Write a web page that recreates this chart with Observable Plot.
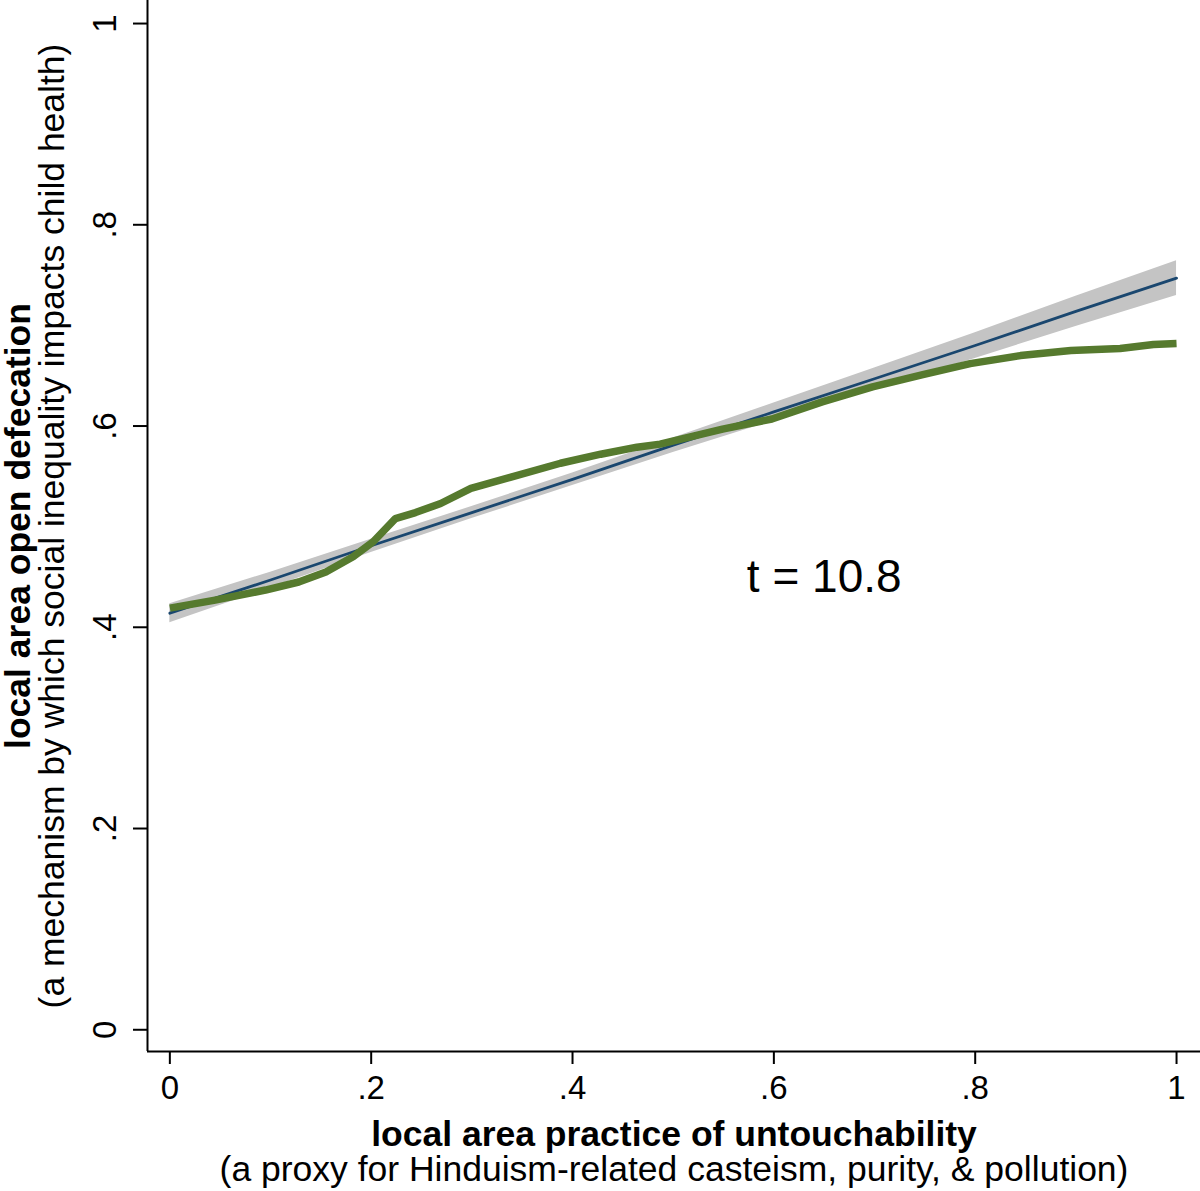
<!DOCTYPE html>
<html>
<head>
<meta charset="utf-8">
<script src="https://cdn.jsdelivr.net/npm/d3@7"></script>
<script src="https://cdn.jsdelivr.net/npm/@observablehq/plot@0.6"></script>
<style>
  html, body { margin: 0; padding: 0; background: #fff; }
  #chart svg { display: block; }
</style>
</head>
<body>
<div id="chart"></div>
<script>
// ---- data ----
const xTicks = [0, 0.2, 0.4, 0.6, 0.8, 1];
const yTicks = [0, 0.2, 0.4, 0.6, 0.8, 1];
const xDomain = [-0.0222, 1.0238];
const yDomain = [-0.0216, 1.0229];

// linear fit with confidence band
const fitX  = [0, 0.1, 0.2, 0.3, 0.4, 0.5, 0.6, 0.7, 0.8, 0.9, 1.0];
const fitY  = [0.414, 0.447, 0.481, 0.514, 0.547, 0.581, 0.614, 0.647, 0.680, 0.714, 0.747];
const fitLo = [0.4045, 0.4392, 0.4744, 0.508, 0.5408, 0.5738, 0.6052, 0.6363, 0.6672, 0.699, 0.7298];
const fitHi = [0.4235, 0.4548, 0.4876, 0.520, 0.5532, 0.5882, 0.6228, 0.6577, 0.6928, 0.729, 0.7642];

// lowess curve
const lowX = [0, 0.045, 0.095, 0.128, 0.155, 0.182, 0.202, 0.224, 0.244, 0.269, 0.299, 0.338, 0.388, 0.428, 0.464, 0.487, 0.549, 0.598, 0.648, 0.698, 0.748, 0.795, 0.845, 0.895, 0.944, 0.977, 1.0];
const lowY = [0.419, 0.427, 0.437, 0.445, 0.455, 0.470, 0.485, 0.508, 0.514, 0.523, 0.538, 0.549, 0.563, 0.572, 0.579, 0.582, 0.597, 0.607, 0.624, 0.639, 0.651, 0.662, 0.670, 0.675, 0.677, 0.681, 0.682];

// annotation
const annText = ["t = 10.8"];
const annX = [0.65];
const annY = [0.45];

const xTitle = "local area practice of untouchability";
const xSub = "(a proxy for Hinduism-related casteism, purity, & pollution)";
const yTitle = "local area open defecation";
const ySub = "(a mechanism by which social inequality impacts child health)";

// ---- build tables ----
const fit = fitX.map((x, i) => ({x, y: fitY[i], lo: fitLo[i], hi: fitHi[i]}));
const low = lowX.map((x, i) => ({x, y: lowY[i]}));
const ann = annText.map((t, i) => ({t, x: annX[i], y: annY[i]}));

const fmt = d => d === 0 ? "0" : d === 1 ? "1" : String(d).replace(/^0\./, ".");

const FONT = "'Liberation Sans', Arial, Helvetica, sans-serif";

const chart = Plot.plot({
  width: 1200,
  height: 1191,
  marginLeft: 147,
  marginRight: 0,
  marginTop: 0,
  marginBottom: 140,
  style: {fontFamily: FONT, color: "#000", background: "#fff"},
  x: {domain: xDomain, axis: null},
  y: {domain: yDomain, axis: null},
  marks: [
    Plot.areaY(fit, {x: "x", y1: "lo", y2: "hi", fill: "#c4c4c4"}),
    Plot.lineY(fit, {x: "x", y: "y", stroke: "#1a476f", strokeWidth: 2.8}),
    Plot.lineY(low, {x: "x", y: "y", stroke: "#567a2e", strokeWidth: 7.5, strokeLinecap: "butt", strokeLinejoin: "round"}),
    Plot.text(ann, {x: "x", y: "y", text: "t", fontSize: 46, textAnchor: "middle", lineAnchor: "middle", fill: "#000"}),
    Plot.ruleX([xDomain[0]], {stroke: "#000", strokeWidth: 2}),
    Plot.ruleY([yDomain[0]], {stroke: "#000", strokeWidth: 2}),
    Plot.axisX({ticks: xTicks, tickFormat: fmt, tickSize: 13, tickPadding: 11, fontSize: 33, label: null, stroke: "#000", strokeWidth: 2, strokeOpacity: 1}),
    Plot.axisY({ticks: yTicks, tickFormat: () => "", tickSize: 14, label: null, stroke: "#000", strokeWidth: 2, strokeOpacity: 1}),
    Plot.text(yTicks, {y: d => d, text: fmt, frameAnchor: "left", dx: -32, rotate: -90, textAnchor: "middle", lineAnchor: "bottom", fontSize: 33, fill: "#000"}),
    Plot.text([xTitle], {frameAnchor: "bottom", dy: 94, lineAnchor: "bottom", fontSize: 35.5, fontWeight: "bold", fill: "#000"}),
    Plot.text([xSub], {frameAnchor: "bottom", dy: 129, lineAnchor: "bottom", fontSize: 35.5, fill: "#000"}),
    Plot.text([yTitle], {frameAnchor: "left", dx: -118, rotate: -90, textAnchor: "middle", lineAnchor: "bottom", fontSize: 35.5, fontWeight: "bold", fill: "#000"}),
    Plot.text([ySub], {frameAnchor: "left", dx: -84, rotate: -90, textAnchor: "middle", lineAnchor: "bottom", fontSize: 35.5, fill: "#000"})
  ]
});
document.getElementById("chart").appendChild(chart);
</script>
</body>
</html>
